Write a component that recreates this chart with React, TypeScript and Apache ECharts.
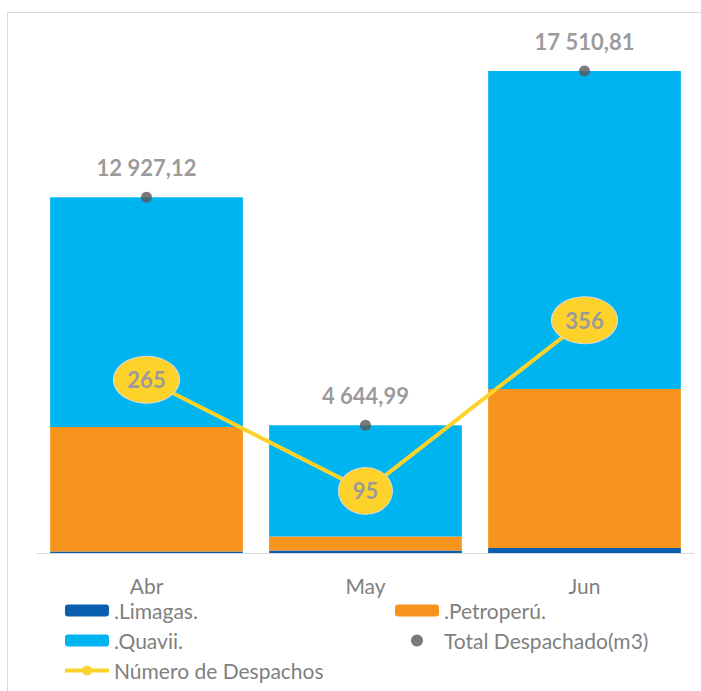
import React, { useEffect, useRef } from "react";
import * as echarts from "echarts";

const categories = ["Abr", "May", "Jun"];
const limagas = [55, 90, 180];
const petroperu = [4520, 510, 5775];
const quavii = [8352.12, 4044.99, 11555.81];
const totals = [12927.12, 4644.99, 17510.81];
const despachos = [265, 95, 356];

const FONT = "Lato, 'Open Sans', sans-serif";
const GRAY = "#7f7f7f";

function fmt(v: number): string {
  const [i, d] = v.toFixed(2).split(".");
  const ip = i.replace(/\B(?=(\d{3})+(?!\d))/g, " ");
  return ip + "," + d;
}

export default function App() {
  const ref = useRef<HTMLDivElement>(null);
  useEffect(() => {
    document.body.style.margin = "0";
    const chart = echarts.init(ref.current!, null, { renderer: "svg" });
    const legendText = { fontFamily: FONT, fontSize: 21, color: GRAY };
    chart.setOption({
      animation: false,
      backgroundColor: "#ffffff",
      textStyle: { fontFamily: FONT },
      graphic: [
        {
          type: "rect",
          shape: { x: 7.5, y: 12.5, width: 700, height: 700 },
          style: { fill: "none", stroke: "#d9d9d9", lineWidth: 1 },
          silent: true,
          z: -10,
        },
      ],
      grid: { left: 37, right: 7, top: 30, bottom: 138 },
      legend: [
        {
          left: 63,
          top: 600,
          padding: 0,
          orient: "vertical",
          itemWidth: 44,
          itemHeight: 12,
          itemGap: 9,
          textStyle: legendText,
          data: [
            ".Limagas.",
            ".Quavii.",
            { name: "Número de Despachos", lineStyle: { width: 4 }, itemStyle: { borderWidth: 0 } },
          ],
        },
        {
          left: 395,
          top: 600,
          padding: 0,
          orient: "vertical",
          itemWidth: 44,
          itemHeight: 12,
          itemGap: 9,
          textStyle: legendText,
          data: [".Petroperú.", "Total Despachado(m3)"],
        },
      ],
      xAxis: {
        type: "category",
        data: categories,
        axisLine: { lineStyle: { color: "#d9d9d9", width: 1 } },
        axisTick: { show: false },
        axisLabel: { color: GRAY, fontSize: 21, fontFamily: FONT, margin: 22 },
      },
      yAxis: [
        { type: "value", min: 0, max: 19000, show: false, splitLine: { show: false } },
        { type: "value", min: 0, max: 800, show: false, splitLine: { show: false } },
      ],
      series: [
        {
          name: ".Limagas.",
          type: "bar",
          stack: "t",
          barWidth: "88%",
          data: limagas,
          itemStyle: { color: "#0a5eb0" },
        },
        {
          name: ".Petroperú.",
          type: "bar",
          stack: "t",
          data: petroperu,
          itemStyle: { color: "#f7941e" },
        },
        {
          name: ".Quavii.",
          type: "bar",
          stack: "t",
          data: quavii,
          itemStyle: { color: "#00b4ef" },
        },
        {
          name: "Total Despachado(m3)",
          type: "scatter",
          data: totals,
          symbol: "circle",
          symbolSize: 11,
          z: 5,
          itemStyle: { color: "#595959" },
          label: {
            show: true,
            position: "top",
            distance: 13,
            formatter: (p: any) => fmt(p.value),
            fontFamily: FONT,
            fontSize: 22,
            fontWeight: "bold",
            color: GRAY,
          },
        },
        {
          name: "Número de Despachos",
          type: "line",
          yAxisIndex: 1,
          data: despachos,
          z: 6,
          symbol: "circle",
          symbolSize: (v: number) => [String(v).length * 12 + 30, 47],
          lineStyle: { color: "#fdd22b", width: 4 },
          itemStyle: { color: "#fdd22b", borderColor: "#d9d9d9", borderWidth: 1 },
          label: {
            show: true,
            position: "inside",
            fontFamily: FONT,
            fontSize: 22,
            fontWeight: "bold",
            color: "#9a9a9a",
          },
        },
      ],
    });
    return () => chart.dispose();
  }, []);
  return <div ref={ref} style={{ width: 701, height: 691 }} />;
}
